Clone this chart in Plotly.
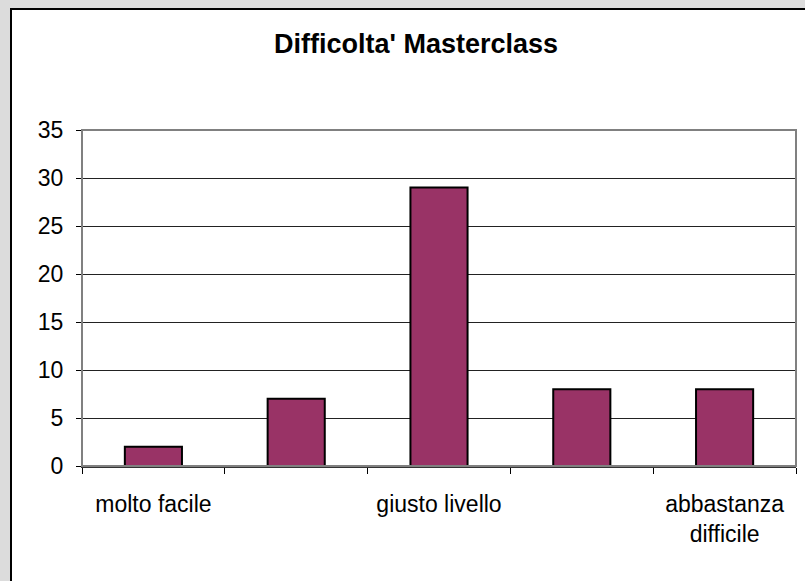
import plotly.graph_objects as go

categories = ["molto facile", "cat2", "giusto livello", "cat4", "abbastanza difficile"]
tick_labels = ["molto facile", "", "giusto livello", "", "abbastanza<br>difficile"]
values = [2, 7, 29, 8, 8]
y_ticks = [0, 5, 10, 15, 20, 25, 30, 35]

W, H = 805, 581
L, R, T, B = 82, 9, 130, 115
pw, ph = W - L - R, H - T - B

def px_x(p):
    return (p - L) / pw

def px_y(p):
    return (H - B - p) / ph

fig = go.Figure()
fig.add_trace(go.Bar(
    x=categories, y=values,
    marker=dict(color="#993366", line=dict(color="#000000", width=2)),
    hoverinfo="x+y",
))

font = "Liberation Sans, Arial, sans-serif"
fig.update_layout(
    width=W, height=H,
    margin=dict(l=L, r=R, t=T, b=B, pad=0),
    paper_bgcolor="#dcdcdc",
    plot_bgcolor="#ffffff",
    bargap=0.6,
    showlegend=False,
    title=dict(text="<b>Difficolta' Masterclass</b>", x=416 / W,
               xanchor="center", y=1 - 44 / H, yanchor="middle",
               font=dict(family=font, size=27, color="#000000")),
    font=dict(family=font, size=23, color="#000000"),
    xaxis=dict(
        type="category", tickmode="array", tickvals=categories, ticktext=tick_labels,
        tickson="boundaries", ticks="outside", ticklen=6, tickcolor="#000000",
        showline=True, linecolor="#333333", linewidth=2,
        showgrid=False, tickfont=dict(size=23), ticklabelstandoff=16,
    ),
    yaxis=dict(
        range=[0, 35], tickmode="array", tickvals=y_ticks,
        ticks="outside", ticklen=5, tickcolor="#000000",
        showline=True, linecolor="#333333", linewidth=1,
        showgrid=True, gridcolor="#222222", gridwidth=1,
        zeroline=False, tickfont=dict(size=23), ticklabelstandoff=8,
    ),
    shapes=[
        dict(type="rect", xref="paper", yref="paper", layer="below",
             x0=px_x(11), x1=px_x(812), y0=px_y(590), y1=px_y(9),
             fillcolor="#ffffff", line=dict(color="#000000", width=2)),
        dict(type="rect", xref="paper", yref="paper", layer="above",
             x0=0, x1=1, y0=0, y1=1, line=dict(color="#808080", width=2)),
    ],
)

fig.write_html("out.html")
